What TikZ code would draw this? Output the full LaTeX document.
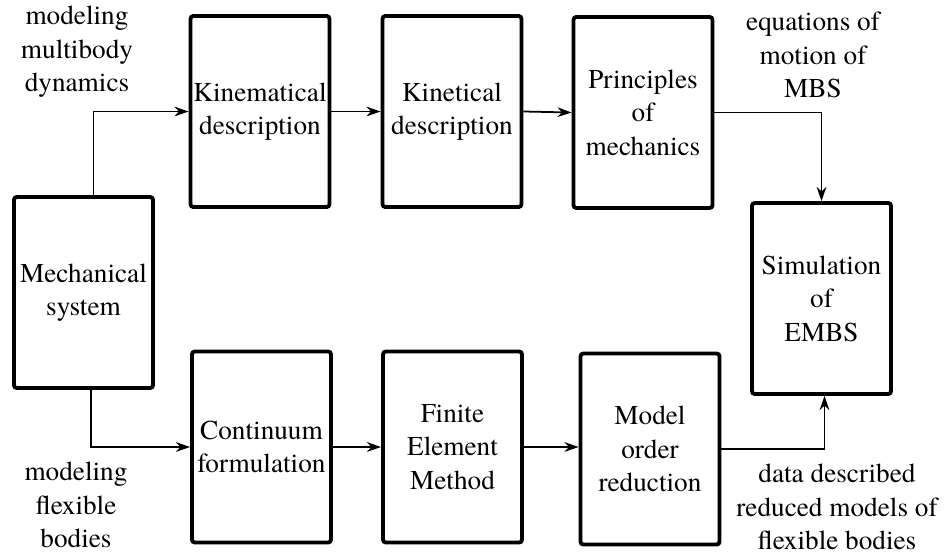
\documentclass[tikz,border=0pt]{standalone}
\usepackage{fontspec}
\setmainfont{texgyretermes}[Extension=.otf, UprightFont=*-regular, BoldFont=*-bold,
                            ItalicFont=*-italic, BoldItalicFont=*-bolditalic]
\usepackage{tikz}
\usetikzlibrary{arrows.meta}

\begin{document}
\begin{tikzpicture}[scale=1,
                    font=\fontsize{15.5}{19}\selectfont,
                    box/.style={draw, line width=2.2pt, rounded corners=1.6pt, align=center,
                                minimum width=2.78cm, minimum height=3.82cm, inner sep=1pt},
                    lbl/.style={align=center, inner sep=0pt},
                    >={Stealth[length=8pt,width=5.5pt,inset=2.5pt]}]
                    \useasboundingbox (0,0) rectangle (18.88,11.1);
                    % boxes
                    \node[box] (mech)  at (1.67,5.25)  {Mechanical\\system};
                    \node[box] (kinem) at (5.2,8.87)   {Kinematical\\description};
                    \node[box] (kinet) at (9.04,8.87)  {Kinetical\\description};
                    \node[box] (princ) at (12.86,8.85) {Principles\\of\\mechanics};
                    \node[box] (sim)   at (16.43,5.13) {Simulation\\of\\EMBS};
                    \node[box] (cont)  at (5.23,2.16)  {Continuum\\formulation};
                    \node[box] (fem)   at (9.05,2.16)  {Finite\\Element\\Method};
                    \node[box] (mor)   at (13.0,2.12)  {Model\\order\\reduction};
                    % labels
                    \node[lbl] (mbd)  at (1.54,10.06)  {modeling\\multibody\\dynamics};
                    \node[lbl] (eom)  at (16.26,10.0)  {equations of\\motion of\\MBS};
                    \node[lbl] (flex) at (1.52,1.0)    {modeling\\flexible\\bodies};
                    \node[lbl] (data) at (16.74,0.96)  {data described\\reduced models of\\flexible bodies};
                    % connectors
                    \draw[->, line width=1pt] ([xshift=0.2cm]mech.north) |- (kinem.west);
                    \draw[->, line width=1pt] (kinem.east) -- (kinet.west);
                    \draw[->, line width=1pt] (kinet.east) -- (princ.west);
                    \draw[->, line width=1pt] (princ.east) -| (sim.north);
                    \draw[->, line width=1pt] ([xshift=0.15cm]mech.south) |- (cont.west);
                    \draw[->, line width=1pt] (cont.east) -- (fem.west);
                    \draw[->, line width=1pt] (fem.east) -- (fem.east -| mor.west);
                    \draw[->, line width=1pt] (mor.east) -| ([xshift=0.06cm]sim.south);
\end{tikzpicture}
\end{document}
